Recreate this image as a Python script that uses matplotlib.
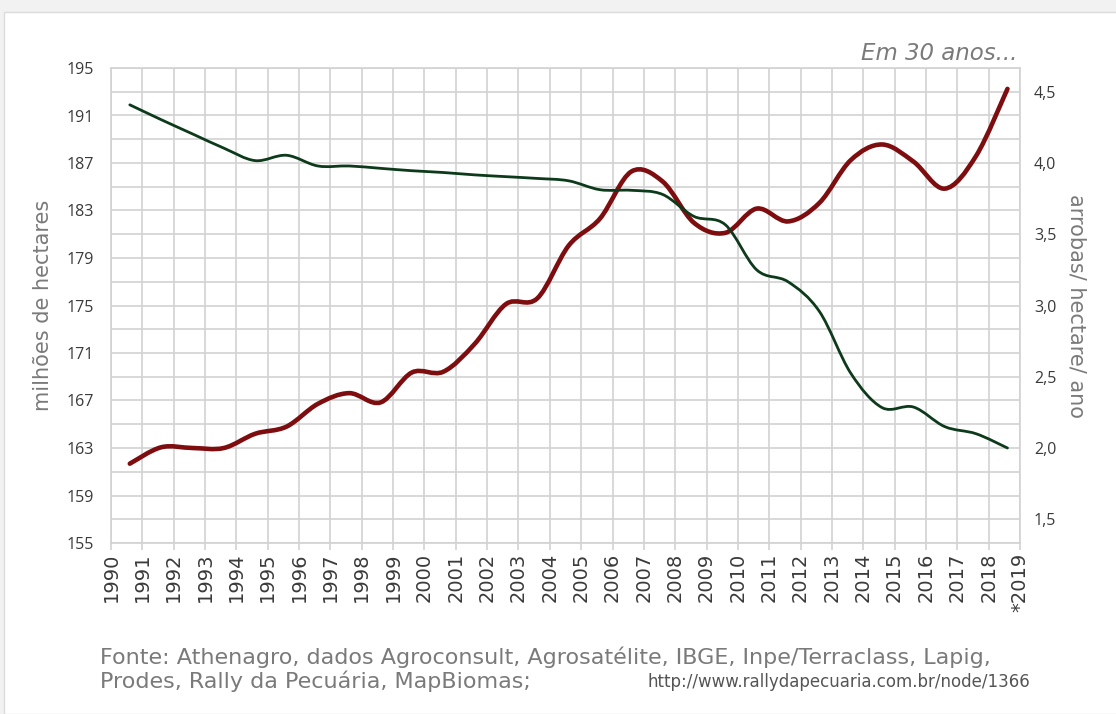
import matplotlib

matplotlib.use("Agg")
import matplotlib.pyplot as plt
import numpy as np
from matplotlib.patches import PathPatch, Rectangle
from matplotlib.path import Path

plt.rcParams["font.family"] = ["Open Sans", "DejaVu Sans"]

# annual values
years = list(range(1990, 2019))
area_mha = [191.9, 190.65, 189.45, 188.25, 187.2, 187.65, 186.75, 186.75, 186.55, 186.35,
            186.2, 186.0, 185.85, 185.7, 185.5, 184.75, 184.7, 184.35, 182.5, 181.8,
            178.0, 177.0, 174.5, 169.3, 166.4, 166.45, 164.8, 164.2, 163.0]
arrobas_ha = [1.89, 2.005, 2.0, 2.0, 2.10, 2.15, 2.31, 2.385, 2.32, 2.53,
              2.535, 2.73, 3.01, 3.05, 3.42, 3.61, 3.94, 3.87, 3.58, 3.51,
              3.68, 3.59, 3.72, 4.02, 4.13, 4.01, 3.82, 4.05, 4.52]
tick_years = list(range(1990, 2020))
tick_labels = [str(y) for y in tick_years[:-1]] + ["*2019"]
left_ticks = list(range(155, 196, 4))
right_ticks = [1.5, 2.0, 2.5, 3.0, 3.5, 4.0, 4.5]

GRID = "#d2d2d2"
GREEN = "#0c3a1b"
RED = "#7d0d0f"
TXT = "#3a3a3a"
GRAY = "#7a7a7a"


def smooth_path(xs, ys):
    """Excel-style smoothed line: Catmull-Rom segments as cubic Beziers."""
    p = np.column_stack([xs, ys]).astype(float)
    verts = [p[0]]
    codes = [Path.MOVETO]
    n = len(p)
    for i in range(n - 1):
        p0 = p[max(i - 1, 0)]
        p1, p2 = p[i], p[i + 1]
        p3 = p[min(i + 2, n - 1)]
        verts += [p1 + (p2 - p0) / 6, p2 - (p3 - p1) / 6, p2]
        codes += [Path.CURVE4] * 3
    return Path(verts, codes)


fig = plt.figure(figsize=(11.16, 7.14), dpi=100)
fig.patch.set_facecolor("#f2f2f2")
fig.patches.append(Rectangle((4 / 1116, 0), 1, 1 - 12 / 714, transform=fig.transFigure,
                             facecolor="white", edgecolor="#dcdcdc", lw=1, zorder=-5))

# base axes carries the productivity series (right scale) and the grid
ax = fig.add_axes([111 / 1116, 1 - 543 / 714, 909 / 1116, 475 / 714])
ax.patch.set_visible(False)
# twin axes on top carries the pasture area (left scale)
ax2 = ax.twinx()

xpos = np.array(years) + 0.6
ax.add_patch(PathPatch(smooth_path(xpos, arrobas_ha), fill=False, edgecolor=RED,
                       lw=3.3, capstyle="round", joinstyle="round", zorder=3))
ax.set_xlim(1990, 2019)
ax.set_ylim(1.5 - 1 / 6, 4.5 + 1 / 6)
ax.yaxis.tick_right()
ax.yaxis.set_label_position("right")
ax.set_yticks(right_ticks)
ax.set_yticklabels([f"{v:.1f}".replace(".", ",") for v in right_ticks])
ax.set_yticks(np.arange(1.5 - 1 / 6, 4.5 + 1 / 6 + 1e-6, 1 / 6), minor=True)
ax.set_xticks(tick_years)
ax.set_xticklabels(tick_labels, rotation=90, family="DejaVu Sans")
ax.tick_params(axis="x", length=5, color=GRID, width=1.2, labelsize=14, labelcolor=TXT, pad=2)
ax.tick_params(axis="y", which="both", length=0, labelsize=11.5, labelcolor=TXT, pad=10)
ax.grid(True, which="both", color=GRID, lw=1.2)
ax.set_axisbelow(True)
for s in ax.spines.values():
    s.set_color(GRID)
    s.set_linewidth(1.2)
ax.set_ylabel("arrobas/ hectare/ ano", rotation=270, color=GRAY, fontsize=15,
              family="DejaVu Sans", labelpad=22)

ax2.add_patch(PathPatch(smooth_path(xpos, area_mha), fill=False, edgecolor=GREEN,
                        lw=2.0, capstyle="round", joinstyle="round", zorder=3))
ax2.set_ylim(155, 195)
ax2.yaxis.tick_left()
ax2.yaxis.set_label_position("left")
ax2.set_yticks(left_ticks)
ax2.tick_params(axis="y", length=0, labelsize=11.5, labelcolor=TXT, pad=12)
for s in ax2.spines.values():
    s.set_visible(False)
ax2.set_ylabel("milhões de hectares", color=GRAY, fontsize=15, family="DejaVu Sans",
               labelpad=10)

fig.text(1017 / 1116, 1 - 53 / 714, "Em 30 anos...", ha="right", va="center",
         style="italic", color=GRAY, fontsize=16.5, family="DejaVu Sans")
fig.text(100 / 1116, 1 - 657 / 714,
         "Fonte: Athenagro, dados Agroconsult, Agrosatélite, IBGE, Inpe/Terraclass, Lapig,",
         ha="left", va="center", color=GRAY, fontsize=16, family="DejaVu Sans")
fig.text(100 / 1116, 1 - 681 / 714, "Prodes, Rally da Pecuária, MapBiomas;",
         ha="left", va="center", color=GRAY, fontsize=16, family="DejaVu Sans")
fig.text(1030 / 1116, 1 - 682 / 714, "http://www.rallydapecuaria.com.br/node/1366",
         ha="right", va="center", color="#555555", fontsize=12, family="DejaVu Sans")

fig.savefig("out.png", dpi=100, facecolor=fig.get_facecolor())
plt.close(fig)
